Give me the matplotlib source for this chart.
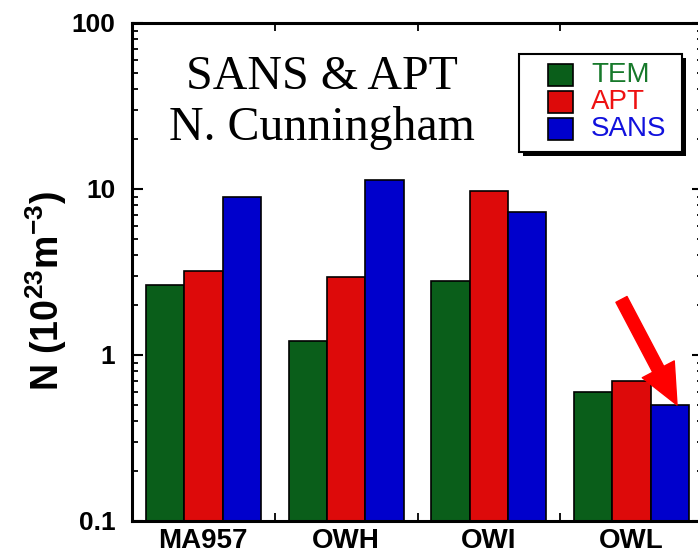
import matplotlib
matplotlib.use("Agg")
import matplotlib.pyplot as plt
import numpy as np
from matplotlib.patches import Rectangle
from matplotlib.ticker import FixedLocator, FixedFormatter, LogLocator, NullFormatter

# Number density of features per sample, measured three ways (10^23 m^-3)
samples = ["MA957", "OWH", "OWI", "OWL"]
series = ["TEM", "APT", "SANS"]
tem = [2.63, 1.21, 2.8, 0.6]
apt = [3.2, 2.94, 9.7, 0.695]
sans = [9.0, 11.3, 7.25, 0.5]
yticks = [0.1, 1, 10, 100]
ytick_labels = ["0.1", "1", "10", "100"]

bar_colors = ["#0a5e1a", "#dd0a0a", "#0000cc"]
text_colors = ["#17792b", "#ee1111", "#1111dd"]

plt.rcParams["font.family"] = ["Liberation Sans", "DejaVu Sans"]
plt.rcParams["font.weight"] = "bold"
plt.rcParams["axes.labelweight"] = "bold"
plt.rcParams["mathtext.fontset"] = "custom"
plt.rcParams["mathtext.rm"] = "Liberation Sans:bold"
plt.rcParams["mathtext.it"] = "Liberation Sans:bold"
plt.rcParams["mathtext.bf"] = "Liberation Sans:bold"
plt.rcParams["mathtext.default"] = "rm"

W, H = 698, 553
fig = plt.figure(figsize=(W / 100, H / 100), dpi=100)
ax = fig.add_axes([132 / W, 1 - 521 / H, 571 / W, 498 / H])
ax.set_yscale("log")

x = np.arange(1, len(samples) + 1)
width = 0.268
for i, (vals, c) in enumerate(zip([tem, apt, sans], bar_colors)):
    ax.bar(x + (i - 1) * width, vals, width, color=c, edgecolor="black",
           linewidth=1.2, zorder=2)

ax.set_xlim(0.5, 4.5)
ax.set_ylim(0.1, 100)

# y axis: decade labels, inward ticks on both sides
ax.yaxis.set_major_locator(FixedLocator(yticks))
ax.yaxis.set_major_formatter(FixedFormatter(ytick_labels))
ax.yaxis.set_minor_locator(LogLocator(base=10, subs=np.arange(2, 10)))
ax.yaxis.set_minor_formatter(NullFormatter())
ax.tick_params(axis="y", which="major", direction="in", length=8, width=1.5,
               left=True, right=True, pad=12, labelsize=19)
ax.tick_params(axis="y", which="minor", direction="in", length=4.5, width=1.3,
               left=True, right=True)

# x axis: sample names, group separators as inward ticks top and bottom
ax.set_xticks(x)
ax.set_xticklabels(samples)
ax.set_xticks([1.5, 2.5, 3.5], minor=True)
ax.tick_params(axis="x", which="major", length=0, pad=5, labelsize=20)
ax.tick_params(axis="x", which="minor", direction="in", length=6, width=1.3,
               top=True, bottom=True)

for s in ax.spines.values():
    s.set_linewidth(2.2)

ax.set_ylabel(r"N (10$^{23}$m$^{-3}$)", fontsize=27, fontweight="bold")
ax.yaxis.set_label_coords(-0.11, 0.462)

# Title block
fig.text(322 / W, 1 - 89 / H, "SANS & APT", ha="center", va="baseline",
         family="Liberation Serif", fontsize=34.5, weight="normal")
fig.text(322 / W, 1 - 140 / H, "N. Cunningham", ha="center", va="baseline",
         family="Liberation Serif", fontsize=34.5, weight="normal")

# Legend box with drop shadow
def fig_rect(x0, y0, w, h, **kw):
    r = Rectangle((x0 / W, 1 - (y0 + h) / H), w / W, h / H,
                  transform=fig.transFigure, **kw)
    fig.add_artist(r)
    return r

fig_rect(523, 58, 163, 98, facecolor="black", edgecolor="none", zorder=5)
fig_rect(519, 54, 163, 98, facecolor="white", edgecolor="black",
         linewidth=1.5, zorder=6)
for k, (name, bc, tc) in enumerate(zip(series, bar_colors, text_colors)):
    top = 64 + 27 * k
    fig_rect(548, top, 25, 22, facecolor=bc, edgecolor="black",
             linewidth=1.2, zorder=7)
    fig.text(591 / W, 1 - (top + 11) / H, name, ha="left", va="center",
             color=tc, fontsize=20, weight="normal", zorder=8)

# Arrow pointing at the OWL SANS bar
ax.annotate("", xy=(4.318, sans[3]), xytext=(-40, 76),
            textcoords="offset points", annotation_clip=False,
            arrowprops=dict(arrowstyle="simple,head_length=1.45,head_width=1.3,tail_width=0.45",
                            color="#ff0000", mutation_scale=20,
                            shrinkA=0, shrinkB=0), zorder=9)

fig.savefig("out.png", dpi=100)
